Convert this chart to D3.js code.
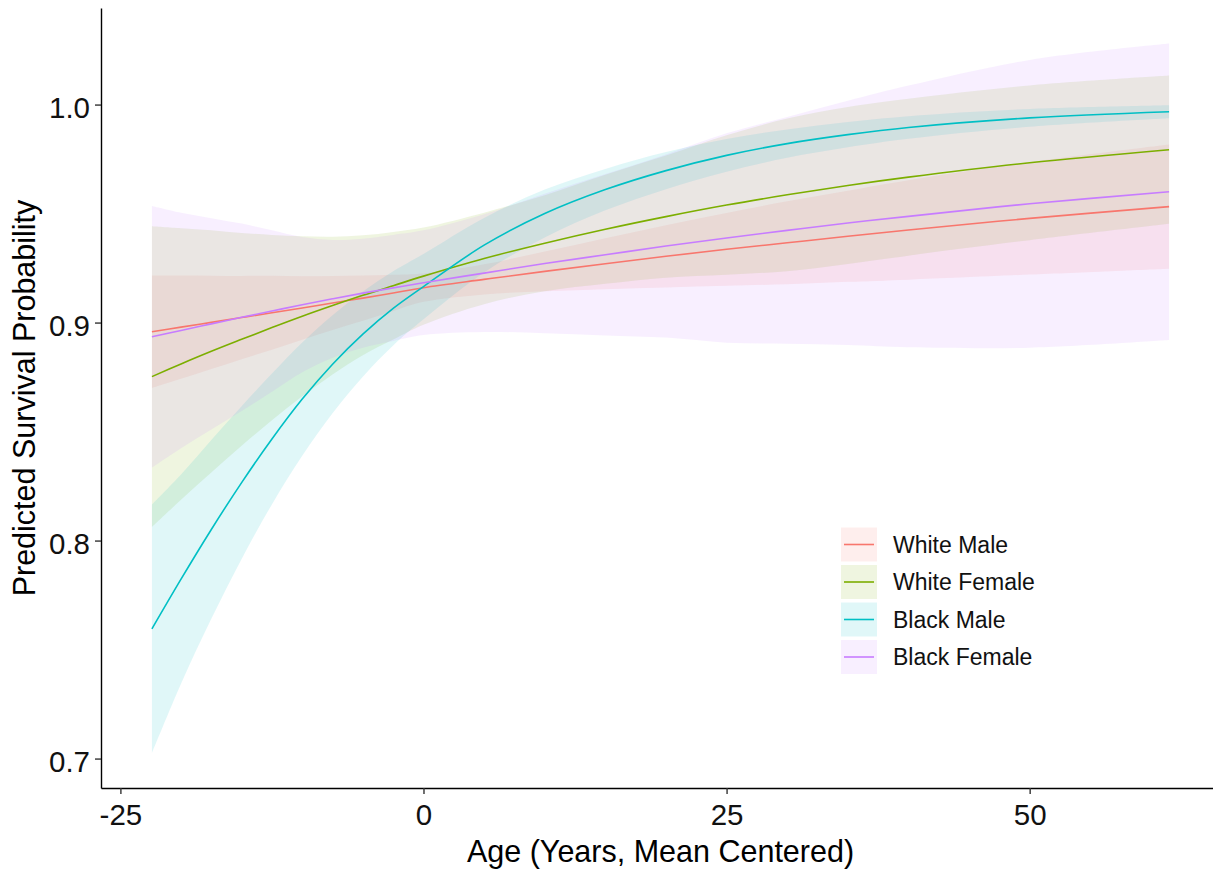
<!DOCTYPE html>
<html>
<head>
<meta charset="utf-8">
<script src="https://cdn.jsdelivr.net/npm/d3@7"></script>
<style>
  html, body { margin: 0; padding: 0; background: #ffffff; }
  svg { display: block; }
  text { font-family: "Liberation Sans", Arial, Helvetica, sans-serif; }
</style>
</head>
<body>
<script>
// Predicted survival probability by age (mean centered), with 95% bands
const ageValues = [-22.4, -20, -17.5, -15, -12.5, -10, -7.5, -5, -2.5, 0, 5, 10, 15, 20, 25, 30, 35, 40, 50, 61.5];

const groupNames = ["White Male", "White Female", "Black Male", "Black Female"];
const groupColors = ["#F8766D", "#7CAE00", "#00BFC4", "#C77CFF"];

const whiteMaleFit   = [0.8958, 0.8979, 0.9001, 0.9023, 0.9045, 0.9067, 0.9090, 0.9112, 0.9136, 0.9160, 0.9198, 0.9235, 0.9270, 0.9304, 0.9336, 0.9366, 0.9396, 0.9425, 0.9478, 0.9532];
const whiteMaleLow   = [0.8700, 0.8742, 0.8787, 0.8832, 0.8875, 0.8921, 0.8966, 0.9008, 0.9053, 0.9095, 0.9129, 0.9144, 0.9153, 0.9161, 0.9169, 0.9176, 0.9187, 0.9197, 0.9220, 0.9247];
const whiteMaleHigh  = [0.9216, 0.9216, 0.9215, 0.9214, 0.9215, 0.9213, 0.9214, 0.9216, 0.9219, 0.9225, 0.9267, 0.9326, 0.9387, 0.9447, 0.9503, 0.9556, 0.9605, 0.9653, 0.9736, 0.9817];

const whiteFemaleFit  = [0.8752, 0.8810, 0.8868, 0.8923, 0.8977, 0.9029, 0.9078, 0.9125, 0.9169, 0.9213, 0.9294, 0.9364, 0.9428, 0.9486, 0.9539, 0.9586, 0.9629, 0.9667, 0.9733, 0.9793];
const whiteFemaleLow  = [0.8062, 0.8187, 0.8312, 0.8435, 0.8552, 0.8662, 0.8762, 0.8850, 0.8922, 0.8990, 0.9084, 0.9144, 0.9178, 0.9206, 0.9219, 0.9236, 0.9269, 0.9307, 0.9378, 0.9453];
const whiteFemaleHigh = [0.9442, 0.9433, 0.9424, 0.9411, 0.9402, 0.9396, 0.9394, 0.9400, 0.9416, 0.9436, 0.9504, 0.9584, 0.9678, 0.9766, 0.9859, 0.9936, 0.9989, 1.0027, 1.0088, 1.0133];

const blackMaleFit  = [0.7595, 0.7823, 0.8051, 0.8266, 0.8466, 0.8649, 0.8809, 0.8947, 0.9065, 0.9165, 0.9355, 0.9500, 0.9610, 0.9697, 0.9767, 0.9821, 0.9862, 0.9895, 0.9939, 0.9967];
const blackMaleLow  = [0.7025, 0.7343, 0.7641, 0.7916, 0.8166, 0.8389, 0.8584, 0.8752, 0.8895, 0.9015, 0.9230, 0.9390, 0.9515, 0.9612, 0.9692, 0.9756, 0.9804, 0.9843, 0.9898, 0.9937];
const blackMaleHigh = [0.8165, 0.8303, 0.8461, 0.8616, 0.8766, 0.8909, 0.9034, 0.9142, 0.9235, 0.9315, 0.9480, 0.9610, 0.9705, 0.9782, 0.9842, 0.9886, 0.9920, 0.9947, 0.9980, 0.9997];

const blackFemaleFit  = [0.8935, 0.8964, 0.8994, 0.9024, 0.9053, 0.9082, 0.9109, 0.9135, 0.9159, 0.9183, 0.9227, 0.9271, 0.9311, 0.9351, 0.9388, 0.9423, 0.9457, 0.9487, 0.9545, 0.9600];
const blackFemaleLow  = [0.8335, 0.8424, 0.8509, 0.8594, 0.8683, 0.8772, 0.8839, 0.8885, 0.8916, 0.8943, 0.8957, 0.8951, 0.8941, 0.8931, 0.8908, 0.8903, 0.8897, 0.8887, 0.8885, 0.8920];
const blackFemaleHigh = [0.9535, 0.9504, 0.9479, 0.9454, 0.9423, 0.9392, 0.9379, 0.9385, 0.9402, 0.9423, 0.9497, 0.9591, 0.9681, 0.9771, 0.9868, 0.9943, 1.0017, 1.0087, 1.0205, 1.0280];

const xTicks = [-25, 0, 25, 50];
const yTicks = [0.7, 0.8, 0.9, 1.0];

const xTitle = "Age (Years, Mean Centered)";
const yTitle = "Predicted Survival Probability";

// assemble per-group records
const fits  = [whiteMaleFit, whiteFemaleFit, blackMaleFit, blackFemaleFit];
const lows  = [whiteMaleLow, whiteFemaleLow, blackMaleLow, blackFemaleLow];
const highs = [whiteMaleHigh, whiteFemaleHigh, blackMaleHigh, blackFemaleHigh];
const groups = groupNames.map((name, g) => ({
  name,
  color: groupColors[g],
  points: ageValues.map((a, i) => ({ age: a, fit: fits[g][i], lo: lows[g][i], hi: highs[g][i] }))
}));

const W = 1213, H = 871;
const panel = { left: 101, right: 1220, top: 8, bottom: 788 };
const bandAlpha = 0.12;

const svg = d3.select("body").append("svg")
  .attr("width", W).attr("height", H)
  .attr("viewBox", `0 0 ${W} ${H}`);

svg.append("rect").attr("width", W).attr("height", H).attr("fill", "#ffffff");

const x = d3.scaleLinear().domain([-26.6, 65.7]).range([panel.left, panel.right]);
const y = d3.scaleLinear().domain([0.6865, 1.0443]).range([panel.bottom, panel.top]);

const plot = svg.append("g");
const smooth = d3.curveCatmullRom.alpha(0.5);

// confidence ribbons
const area = d3.area()
  .x(d => x(d.age))
  .y0(d => y(d.lo))
  .y1(d => y(d.hi))
  .curve(smooth);

plot.selectAll("path.band")
  .data(groups)
  .join("path")
  .attr("class", "band")
  .attr("d", d => area(d.points))
  .attr("fill", d => d.color)
  .attr("fill-opacity", bandAlpha)
  .attr("stroke", "none");

// fitted curves
const line = d3.line()
  .x(d => x(d.age))
  .y(d => y(d.fit))
  .curve(smooth);

plot.selectAll("path.fit")
  .data(groups)
  .join("path")
  .attr("class", "fit")
  .attr("d", d => line(d.points))
  .attr("fill", "none")
  .attr("stroke", d => d.color)
  .attr("stroke-width", 1.6);

// axes
const tickFont = 29.5;
const yAxis = svg.append("g")
  .attr("transform", `translate(${panel.left},0)`)
  .call(d3.axisLeft(y).tickValues(yTicks).tickFormat(d => d.toFixed(1))
    .tickSize(6).tickSizeOuter(0).tickPadding(5));

const xAxis = svg.append("g")
  .attr("transform", `translate(0,${panel.bottom})`)
  .call(d3.axisBottom(x).tickValues(xTicks).tickFormat(d => String(d))
    .tickSize(6).tickSizeOuter(0).tickPadding(10));

[yAxis, xAxis].forEach(ax => {
  ax.select(".domain").attr("stroke", "#000").attr("stroke-width", 1.4);
  ax.selectAll(".tick line").attr("stroke", "#333").attr("stroke-width", 1.4);
  ax.selectAll(".tick text")
    .attr("fill", "#111")
    .style("font-size", tickFont + "px")
    .style("font-family", "'Liberation Sans', Arial, sans-serif");
});
yAxis.selectAll(".tick text").attr("dy", "0.44em");

// axis titles
svg.append("text")
  .attr("x", (panel.left + panel.right) / 2)
  .attr("y", 862)
  .attr("text-anchor", "middle")
  .attr("fill", "#000")
  .style("font-size", "30.5px")
  .text(xTitle);

svg.append("text")
  .attr("transform", `translate(35,${(panel.top + panel.bottom) / 2}) rotate(-90)`)
  .attr("text-anchor", "middle")
  .attr("fill", "#000")
  .style("font-size", "30.5px")
  .text(yTitle);

// legend
const legend = svg.append("g").attr("transform", "translate(841,527.5)");
const keyW = 36, keyH = 34, keyStep = 37.5;
const item = legend.selectAll("g.item")
  .data(groups)
  .join("g")
  .attr("class", "item")
  .attr("transform", (d, i) => `translate(0,${i * keyStep})`);

item.append("rect")
  .attr("width", keyW).attr("height", keyH)
  .attr("fill", d => d.color)
  .attr("fill-opacity", bandAlpha);

item.append("line")
  .attr("x1", 3).attr("x2", keyW - 3)
  .attr("y1", keyH / 2).attr("y2", keyH / 2)
  .attr("stroke", d => d.color)
  .attr("stroke-width", 1.6);

item.append("text")
  .attr("x", 52)
  .attr("y", keyH / 2)
  .attr("dy", "0.36em")
  .attr("fill", "#111")
  .style("font-size", "23px")
  .text(d => d.name);
</script>
</body>
</html>
